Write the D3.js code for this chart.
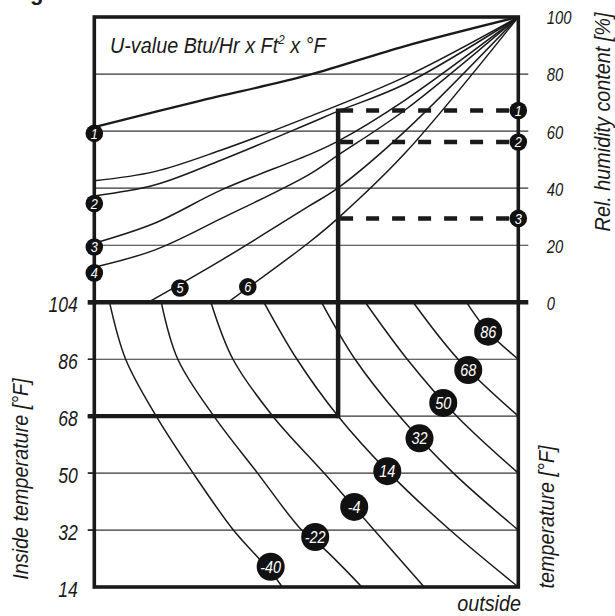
<!DOCTYPE html>
<html>
<head>
<meta charset="utf-8">
<script src="https://cdn.jsdelivr.net/npm/d3@7"></script>
<style>
  html, body { margin: 0; padding: 0; background: #fff; }
  svg { display: block; }
  text { font-family: "Liberation Sans", Arial, sans-serif; font-style: italic; fill: #1a1a1a; }
</style>
</head>
<body>
<svg id="chart" width="615" height="616"></svg>
<script>
// ---- tick labels ----
const humidityTicks = [0, 20, 40, 60, 80, 100];
const insideTempTicks = [14, 32, 50, 68, 86, 104];

// ---- U-value curves (upper panel): [scale position, relative humidity %] ----
const uCurve1 = [[0, 61.4], [24.9, 70.6], [50.4, 79.6], [73.3, 89.8], [100, 100]];
const uCurveB = [[0, 42.6], [14.2, 45.8], [30.0, 53.4], [50.4, 64.9], [73.3, 79.0], [100, 100]];
const uCurve2 = [[0, 37.3], [14.2, 41.1], [30.0, 49.9], [50.4, 62.5], [57.5, 67.0], [73.3, 76.5], [100, 100]];
const uCurve3 = [[0, 20.7], [14.2, 27.7], [30.0, 39.4], [50.4, 51.6], [57.5, 56.5], [73.3, 70.9], [100, 100]];
const uCurve4 = [[0, 12.3], [14.2, 18.3], [30.0, 29.4], [50.4, 44.6], [57.5, 51.6], [73.3, 67.4], [100, 100]];
const uCurve5 = [[12.7, 0], [30.0, 14.8], [50.4, 33.5], [57.5, 40.1], [73.3, 60.0], [100, 100]];
const uCurve6 = [[31.5, 0], [50.4, 20.7], [57.5, 29.5], [73.3, 52.3], [100, 100]];

const uCurves = [
  { points: uCurve1, width: 2.3 },
  { points: uCurveB, width: 1.5 },
  { points: uCurve2, width: 1.5 },
  { points: uCurve3, width: 1.5 },
  { points: uCurve4, width: 1.5 },
  { points: uCurve5, width: 1.5 },
  { points: uCurve6, width: 1.5 }
];
// numbered badges on the U-value curves: [label, position, humidity]
const uBadgeLabels = ["1", "2", "3", "4", "5", "6"];
const uBadgePos = [0, 0, 0, 0, 20.2, 36.2];
const uBadgeHum = [59.2, 34.6, 19.4, 10.3, 5.0, 5.4];

// ---- outside temperature curves (lower panel): [scale position, inside temperature °F] ----
const outsideTemps = [-40, -22, -4, 14, 32, 50, 68, 86];
const outsideCurves = [
  [[3.6, 104], [7.4, 86], [14.6, 68], [23.3, 50], [32.8, 32], [38.6, 23.3], [43.1, 16.3], [44.3, 14]],
  [[15.8, 104], [19.7, 86], [28.2, 68], [38.5, 50], [48.9, 32], [54.4, 25.8], [63.1, 14]],
  [[27.5, 104], [32.7, 86], [42.1, 68], [54.2, 50], [66.0, 32], [77.8, 14]],
  [[40.0, 104], [47.8, 86], [57.5, 68], [69.6, 50], [83.9, 32], [100, 14]],
  [[53.6, 104], [61.5, 86], [72.0, 68], [84.7, 50], [100, 32]],
  [[63.9, 104], [73.8, 86], [85.5, 68], [100, 50]],
  [[75.2, 104], [85.8, 86], [100, 68]],
  [[87.8, 104], [92.9, 94.7], [100, 86]]
];
// badge placement for each outside temperature curve
const outsideBadgePos = [41.6, 52.1, 61.3, 69.1, 76.7, 82.3, 88.2, 92.9];
const outsideBadgeTemp = [20.4, 29.8, 39.3, 50.6, 61.0, 72.2, 82.6, 94.7];

// ---- worked example: inside 68 °F, reading line and humidity results ----
const exampleInside = 68;
const examplePos = 57.5;
const resultLabels = ["1", "2", "3"];
const resultHumidity = [67.2, 56.2, 29.4];

// ---- scales ----
const svg = d3.select("#chart");
const xPos = d3.scaleLinear().domain([0, 100]).range([94.3, 518.3]);
const yHum = d3.scaleLinear().domain([0, 100]).range([302.3, 17]);
const yTemp = d3.scaleLinear().domain([14, 104]).range([587, 302.3]);

const ink = "#1a1a1a";
const narrowTicks = 0.8;   // horizontal squeeze for tick numerals
const narrowText = 0.9;    // horizontal squeeze for captions

// ---- grid lines ----
const grid = svg.append("g");
grid.selectAll("line.hum")
  .data(humidityTicks.filter(d => d > 0 && d < 100))
  .join("line")
  .attr("x1", xPos(0)).attr("x2", xPos(100) + 10)
  .attr("y1", d => yHum(d)).attr("y2", d => yHum(d))
  .attr("stroke", "#333").attr("stroke-width", 1.2);

grid.selectAll("line.temp")
  .data(insideTempTicks.filter(d => d > 14 && d < 104))
  .join("line")
  .attr("x1", xPos(0) - 6.5).attr("x2", xPos(100))
  .attr("y1", d => yTemp(d)).attr("y2", d => yTemp(d))
  .attr("stroke", "#333").attr("stroke-width", 1.2);

// ---- curves ----
const lineUpper = d3.line()
  .x(d => xPos(d[0])).y(d => yHum(d[1]))
  .curve(d3.curveCatmullRom.alpha(0.5));
const lineLower = d3.line()
  .x(d => xPos(d[0])).y(d => yTemp(d[1]))
  .curve(d3.curveCatmullRom.alpha(0.5));

svg.append("g").selectAll("path")
  .data(uCurves).join("path")
  .attr("d", d => lineUpper(d.points))
  .attr("fill", "none").attr("stroke", ink)
  .attr("stroke-width", d => d.width);

svg.append("g").selectAll("path")
  .data(outsideCurves).join("path")
  .attr("d", d => lineLower(d))
  .attr("fill", "none").attr("stroke", ink)
  .attr("stroke-width", 1.5);

// ---- heavy lines: panel divider, 68 °F reading line, vertical reading line ----
svg.append("line")
  .attr("x1", xPos(0) - 6.5).attr("x2", xPos(100) + 10)
  .attr("y1", yTemp(104)).attr("y2", yTemp(104))
  .attr("stroke", ink).attr("stroke-width", 4.5);

svg.append("line")
  .attr("x1", xPos(0) - 6.5).attr("x2", xPos(examplePos))
  .attr("y1", yTemp(exampleInside)).attr("y2", yTemp(exampleInside))
  .attr("stroke", ink).attr("stroke-width", 4.2);

svg.append("line")
  .attr("x1", xPos(examplePos)).attr("x2", xPos(examplePos))
  .attr("y1", yTemp(exampleInside) + 2).attr("y2", yHum(resultHumidity[0]) - 2)
  .attr("stroke", ink).attr("stroke-width", 4.5);

// ---- frame ----
svg.append("rect")
  .attr("x", xPos(0)).attr("y", yHum(100))
  .attr("width", xPos(100) - xPos(0)).attr("height", yTemp(14) - yHum(100))
  .attr("fill", "none").attr("stroke", ink).attr("stroke-width", 3.6);

// ---- dashed result lines ----
svg.append("g").selectAll("line")
  .data(resultHumidity).join("line")
  .attr("x1", xPos(examplePos) + 2).attr("x2", xPos(100))
  .attr("y1", d => yHum(d)).attr("y2", d => yHum(d))
  .attr("stroke", ink).attr("stroke-width", 4.5)
  .attr("stroke-dasharray", "13,13");

// ---- badges ----
function badge(g, x, y, r, label, size) {
  g.append("circle").attr("cx", x).attr("cy", y).attr("r", r).attr("fill", "#111");
  g.append("text")
    .attr("transform", `translate(${x},${y}) scale(0.85,1)`)
    .attr("text-anchor", "middle").attr("dominant-baseline", "central")
    .attr("font-size", size).style("fill", "#fff")
    .text(label);
}
const badges = svg.append("g");
uBadgeLabels.forEach((lab, i) => badge(badges, xPos(uBadgePos[i]), yHum(uBadgeHum[i]), 8.8, lab, 15));
resultLabels.forEach((lab, i) => badge(badges, xPos(100), yHum(resultHumidity[i]), 8.8, lab, 15));
outsideTemps.forEach((t, i) => badge(badges, xPos(outsideBadgePos[i]), yTemp(outsideBadgeTemp[i]), 14, String(t), 17));

// ---- axes labels ----
function squeezeTicks(g) {
  g.selectAll(".tick text").each(function () {
    const t = d3.select(this);
    t.attr("x", +t.attr("x") / narrowTicks).attr("transform", `scale(${narrowTicks},1)`);
  });
}
const leftAxis = d3.axisLeft(yTemp).tickValues(insideTempTicks).tickSize(0).tickPadding(16.5);
const gLeft = svg.append("g").attr("transform", `translate(${xPos(0)},2)`).call(leftAxis);
gLeft.select(".domain").remove();
gLeft.selectAll("text").attr("font-size", 22).attr("font-family", null).style("fill", ink);
squeezeTicks(gLeft);

const rightAxis = d3.axisRight(yHum).tickValues(humidityTicks).tickSize(0).tickPadding(28.5);
const gRight = svg.append("g").attr("transform", `translate(${xPos(100)},1)`).call(rightAxis);
gRight.select(".domain").remove();
gRight.selectAll("text").attr("font-size", 18.5).attr("font-family", null).style("fill", ink);
squeezeTicks(gRight);

// left tick marks for inside temperature
svg.append("g").selectAll("line")
  .data(insideTempTicks.filter(d => d > 14))
  .join("line")
  .attr("x1", xPos(0) - 6.5).attr("x2", xPos(0))
  .attr("y1", d => yTemp(d)).attr("y2", d => yTemp(d))
  .attr("stroke", ink).attr("stroke-width", d => (d === 104 || d === 68) ? 4.2 : 1.4);

// ---- titles ----
function caption(x, y, rot, anchor, str) {
  return svg.append("text")
    .attr("transform", `translate(${x},${y}) rotate(${rot}) scale(${narrowText},1)`)
    .attr("text-anchor", anchor).attr("font-size", 22)
    .text(str);
}

const title = svg.append("text")
  .attr("transform", `translate(110,53) scale(${narrowText},1)`)
  .attr("font-size", 22);
title.append("tspan").text("U-value Btu/Hr x Ft");
title.append("tspan").attr("font-size", 13).attr("dy", -9).text("2");
title.append("tspan").attr("dy", 9).text(" x °F");

caption(28, 479, -90, "middle", "Inside temperature [°F]");
caption(610, 122, -90, "middle", "Rel. humidity content [%]");
caption(554, 517, -90, "middle", "temperature [°F]");
caption(521, 611, 0, "end", "outside");

// caption line above the figure, only its descender reaches the page
svg.append("text")
  .attr("x", 30).attr("y", -0.5).attr("font-size", 22)
  .style("font-style", "normal").style("font-weight", "bold")
  .text("g");
</script>
</body>
</html>
